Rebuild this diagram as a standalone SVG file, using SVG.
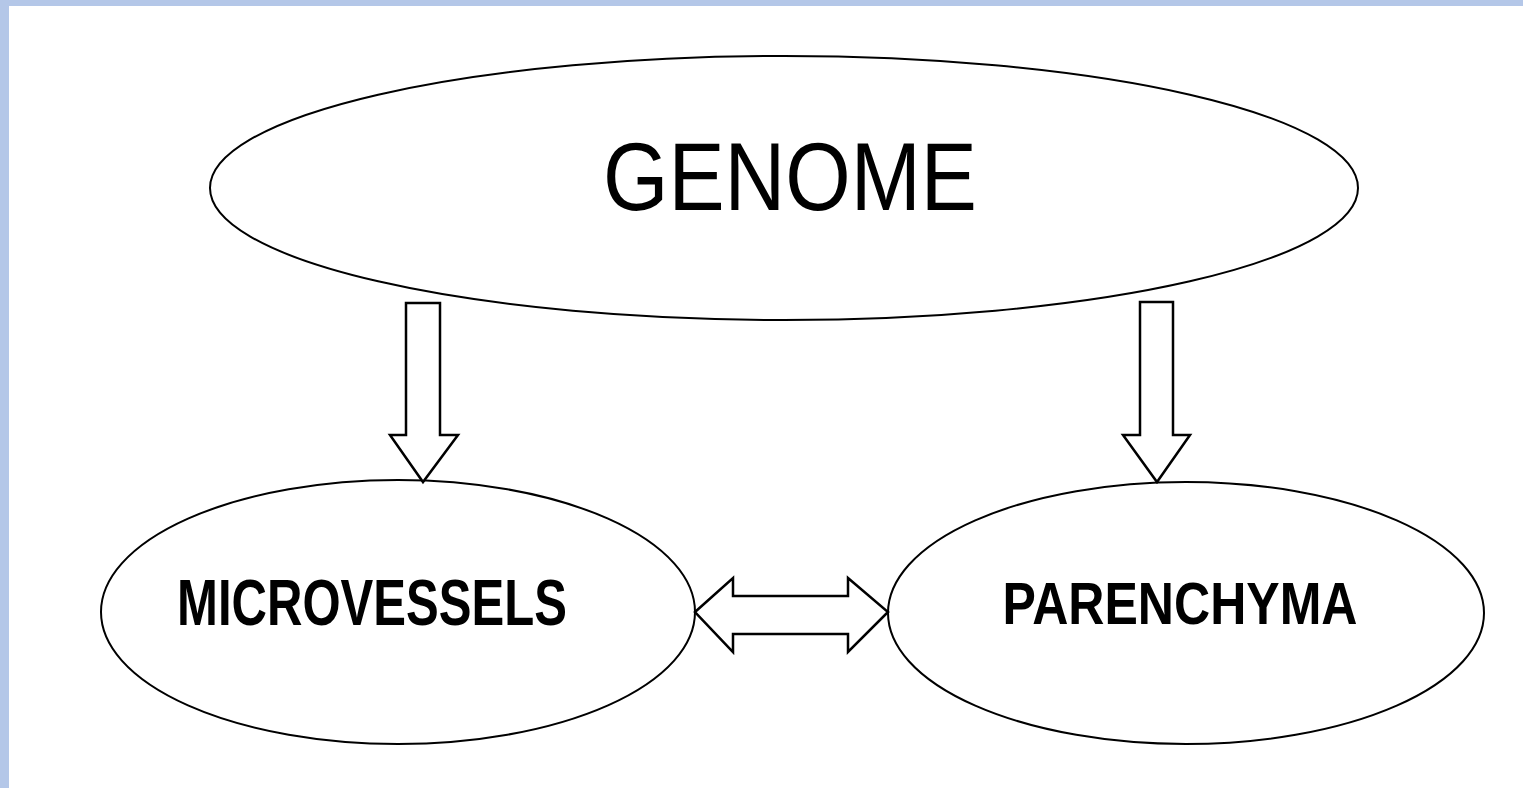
<svg xmlns="http://www.w3.org/2000/svg" width="1523" height="788" viewBox="0 0 1523 788">
<style>
.node{fill:#fff;stroke:#000;stroke-width:2}
.arrow{fill:#fff;stroke:#000;stroke-width:2.5;stroke-linejoin:miter}
.t{font-family:"Liberation Sans",Arial,sans-serif;fill:#000;text-anchor:middle}
.b{font-weight:bold}
</style>
<rect x="0" y="0" width="1523" height="788" fill="#fff"/>
<rect x="0" y="0" width="1523" height="6" fill="#b4c7e8"/>
<rect x="0" y="0" width="9" height="788" fill="#b4c7e8"/>
<g id="genome">
<ellipse class="node" cx="784" cy="188" rx="574" ry="132"/>
<text class="t" x="790" y="210" font-size="97" textLength="374" lengthAdjust="spacingAndGlyphs">GENOME</text>
</g>
<g id="microvessels">
<ellipse class="node" cx="398" cy="612" rx="297" ry="132"/>
<text class="t b" x="372" y="625" font-size="64" textLength="390" lengthAdjust="spacingAndGlyphs">MICROVESSELS</text>
</g>
<g id="parenchyma">
<ellipse class="node" cx="1186" cy="613" rx="298" ry="131"/>
<text class="t b" x="1180" y="624" font-size="60" textLength="355" lengthAdjust="spacingAndGlyphs">PARENCHYMA</text>
</g>
<g id="connectors">
<polygon class="arrow" points="406,303 440,303 440,435 458,435 423,482 390,435 406,435"/>
<polygon class="arrow" points="1140,302 1173,302 1173,435 1190,435 1157,482 1123,435 1140,435"/>
<polygon class="arrow" points="695,612 733,578 733,596 848,596 848,578 888,612 848,652 848,634 733,634 733,652"/>
</g>
</svg>
